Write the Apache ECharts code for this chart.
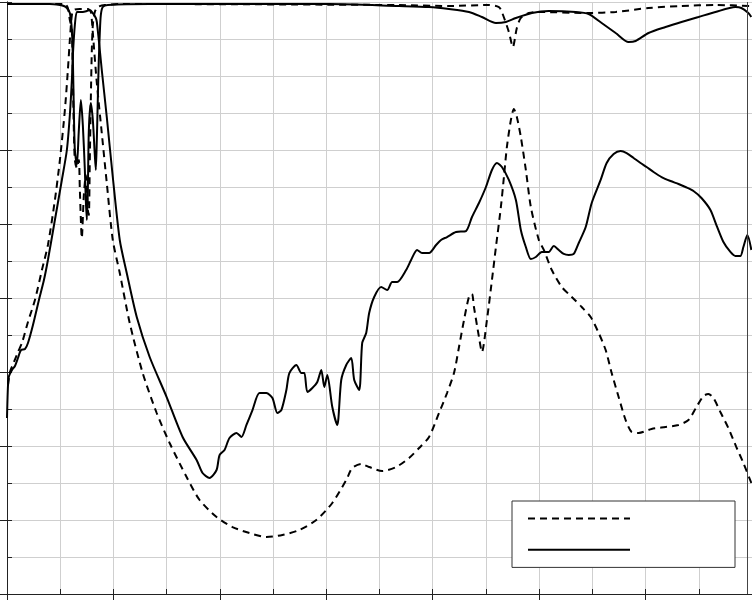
<!DOCTYPE html>
<html>
<head>
<meta charset="utf-8">
<script src="https://cdn.jsdelivr.net/npm/echarts@6.0.0/dist/echarts.min.js"></script>
<style>html,body{margin:0;padding:0;background:#fff;}#c{width:752px;height:604px;}</style>
</head>
<body>
<div id="c"></div>
<script>
// x in arbitrary units (0..140), y in dB (-80..0)
const upperSolid = [[0,-0.27],[8.06,-0.27],[9.94,-0.41],[10.69,-0.54],[11.25,-0.81],[11.81,-1.49],[12.19,-3.78],[12.38,-7.84],[12.56,-14.59],[12.75,-20.0],[13.13,-22.03],[13.5,-17.30],[13.88,-13.24],[14.25,-16.62],[14.63,-22.70],[14.81,-26.76],[15.0,-29.46],[15.19,-25.41],[15.38,-17.30],[15.75,-13.65],[16.13,-15.95],[16.5,-20.68],[16.69,-22.70],[16.88,-18.65],[17.06,-13.24],[17.25,-7.84],[17.44,-4.19],[17.63,-1.76],[18.0,-0.68],[18.94,-0.41],[26.81,-0.27],[60.56,-0.27],[73.69,-0.54],[79.31,-0.68],[83.06,-0.95],[86.81,-1.35],[89.25,-2.03],[91.88,-2.84],[93.75,-2.70],[95.63,-2.16],[98.63,-1.49],[101.81,-1.22],[106.88,-1.35],[109.31,-1.62],[111.75,-2.84],[114.38,-4.19],[116.81,-5.41],[118.13,-5.27],[120.56,-4.19],[123.75,-3.38],[126.75,-2.70],[129.94,-2.03],[133.13,-1.35],[136.88,-0.68],[138.0,-0.81],[139.31,-1.49],[139.88,-2.03]];

const upperDashed = [[0,-0.27],[10.88,-0.27],[11.44,-0.81],[11.81,-2.43],[12.19,-3.78],[12.38,-10.54],[12.56,-17.30],[12.75,-21.35],[13.13,-22.43],[13.5,-21.35],[13.69,-25.41],[14.06,-31.89],[14.44,-26.08],[14.81,-23.38],[15.19,-28.11],[15.38,-28.78],[15.56,-21.35],[15.75,-13.24],[15.94,-6.49],[16.13,-3.11],[16.5,-1.35],[17.06,-0.68],[18.38,-0.41],[21.19,-0.27],[73.69,-0.41],[83.06,-0.54],[90.56,-0.41],[92.44,-0.68],[93.0,-1.35],[94.31,-4.05],[95.06,-6.08],[95.81,-3.51],[96.56,-2.16],[98.06,-1.49],[99.38,-1.35],[109.31,-1.49],[114.38,-1.35],[120.56,-0.81],[126.75,-0.54],[133.13,-0.41],[139.88,-0.54]];

const lowerSolid = [[0,-56.22],[0.19,-51.76],[0.38,-50.54],[0.94,-49.73],[1.5,-49.19],[2.06,-48.11],[2.63,-47.03],[3.38,-46.89],[3.94,-46.08],[4.88,-43.65],[6.0,-40.27],[6.94,-37.57],[7.69,-34.86],[9.0,-29.46],[10.31,-24.05],[11.25,-20.0],[11.81,-15.27],[12.19,-10.54],[12.38,-7.16],[12.75,-3.11],[13.13,-1.35],[13.69,-1.35],[14.25,-1.35],[15.0,-1.22],[15.56,-1.08],[16.13,-1.49],[16.69,-2.16],[16.88,-2.70],[17.44,-6.49],[17.81,-9.19],[18.75,-15.54],[19.88,-23.65],[21.19,-32.16],[22.5,-36.62],[24.38,-42.57],[26.81,-47.97],[30.0,-53.38],[33.0,-58.78],[35.63,-61.89],[36.75,-63.65],[38.06,-64.32],[39.38,-63.24],[39.94,-61.22],[40.88,-60.54],[41.81,-58.92],[43.13,-58.24],[44.06,-58.78],[45.0,-57.16],[46.13,-55.14],[47.44,-52.84],[48.75,-52.84],[49.88,-53.51],[50.81,-55.54],[51.56,-55.14],[52.5,-52.43],[53.06,-50.14],[54.38,-49.05],[55.31,-50.14],[55.88,-50.14],[56.44,-52.70],[57.38,-52.16],[58.31,-51.35],[59.06,-49.73],[59.63,-52.03],[60.19,-50.41],[61.13,-54.73],[62.06,-57.16],[62.81,-51.08],[63.75,-49.05],[64.69,-48.11],[65.25,-51.08],[66.19,-52.43],[66.75,-46.08],[67.5,-44.73],[68.06,-42.03],[69.0,-39.86],[70.31,-38.51],[71.44,-38.92],[72.38,-37.84],[73.31,-37.84],[75.0,-36.22],[75.94,-34.86],[77.06,-33.51],[78.0,-33.92],[79.31,-33.92],[80.63,-32.84],[81.56,-32.16],[82.69,-31.76],[84.38,-31.08],[86.25,-30.95],[87.38,-29.05],[88.69,-27.16],[90.0,-25.0],[91.13,-22.70],[92.06,-21.76],[93.0,-22.30],[94.31,-24.05],[95.63,-26.76],[96.56,-30.81],[97.5,-33.11],[98.44,-34.73],[99.38,-34.46],[100.5,-33.78],[101.81,-33.78],[102.75,-32.97],[103.69,-33.51],[104.63,-34.05],[105.56,-34.19],[106.5,-34.05],[107.44,-32.57],[108.75,-30.41],[109.88,-27.16],[111.56,-24.05],[112.69,-21.76],[114.0,-20.54],[115.31,-20.14],[116.44,-20.41],[117.75,-21.08],[119.06,-21.76],[120.19,-22.30],[121.5,-22.97],[123.0,-23.65],[124.69,-24.19],[126.19,-24.59],[127.5,-25.0],[129.0,-25.54],[130.5,-26.49],[132.19,-28.11],[133.31,-30.14],[134.63,-32.43],[135.94,-33.78],[136.88,-34.32],[137.81,-34.32],[138.38,-33.11],[139.13,-31.49],[139.88,-33.51]];

const lowerDashed = [[0.19,-51.76],[0.56,-50.0],[1.31,-48.65],[2.06,-47.30],[2.81,-46.08],[3.94,-43.24],[5.25,-40.27],[6.56,-36.22],[7.69,-32.84],[9.0,-26.76],[9.94,-21.35],[10.88,-14.59],[11.44,-9.19],[11.81,-5.14],[12.19,-1.76],[12.56,-1.08],[13.69,-0.95],[15.19,-0.95],[15.75,-1.35],[15.94,-2.43],[16.13,-4.19],[16.88,-10.95],[17.81,-17.70],[18.75,-24.46],[19.88,-32.16],[21.19,-36.62],[23.06,-43.38],[25.5,-50.14],[28.13,-55.54],[30.56,-59.59],[33.75,-64.19],[36.19,-67.30],[39.38,-69.59],[42.38,-70.95],[45.56,-71.76],[48.75,-72.30],[51.75,-72.03],[54.94,-71.35],[58.13,-70.0],[61.13,-67.70],[63.75,-64.59],[64.88,-62.97],[66.56,-62.43],[68.06,-62.84],[70.5,-63.38],[73.13,-62.84],[75.56,-61.62],[77.44,-60.27],[79.31,-58.78],[81.19,-55.54],[82.69,-52.84],[84.0,-50.14],[84.94,-46.62],[85.88,-42.97],[86.81,-39.86],[87.38,-39.46],[87.75,-41.22],[88.69,-45.27],[89.25,-47.30],[90.19,-42.97],[91.13,-37.57],[91.88,-33.11],[92.81,-27.70],[93.38,-23.65],[93.94,-19.59],[94.69,-15.95],[95.25,-14.46],[95.81,-15.54],[96.56,-18.24],[97.5,-22.70],[98.44,-27.70],[99.94,-32.16],[100.88,-33.51],[102.38,-36.22],[104.25,-38.51],[106.13,-39.86],[108.0,-41.22],[109.69,-42.57],[111.19,-44.73],[112.5,-47.03],[113.63,-50.14],[114.94,-53.38],[116.25,-56.49],[117.38,-58.11],[118.69,-58.24],[121.13,-57.70],[123.75,-57.43],[126.19,-57.16],[128.06,-56.49],[129.56,-54.73],[130.88,-53.24],[131.81,-52.97],[132.75,-53.51],[134.06,-55.41],[135.56,-57.57],[137.06,-60.14],[138.38,-62.30],[139.88,-65.0]];

const plotEdgeX = [139.03];

const chart = echarts.init(document.getElementById('c'), null, {renderer: 'canvas'});
const dash = [7, 5];
const gridColor = '#cfcfcf';
const axisColor = '#222';
const mkSeries = (name, data, dashed, extra) => Object.assign({
  name: name, type: 'line', data: data, symbol: 'none', smooth: 0.25,
  xAxisIndex: 0, yAxisIndex: 0,
  lineStyle: {color: '#000', width: 2, type: dashed ? dash : 'solid'},
  itemStyle: {color: '#000'}
}, extra || {});

chart.setOption({
  animation: false,
  backgroundColor: '#fff',
  grid: {left: 7, top: 2, width: 747, height: 592, containLabel: false},
  legend: {
    orient: 'vertical', left: 512, top: 501,
    padding: [12, 100, 12, 15],
    itemWidth: 102, itemHeight: 14, itemGap: 20,
    backgroundColor: '#fff', borderColor: '#333', borderWidth: 1,
    formatter: function () { return ''; },
    textStyle: {fontSize: 10, lineHeight: 10},
    itemStyle: {opacity: 0},
    data: [
      {name: 'dashed', itemStyle: {opacity: 0}, lineStyle: {type: dash, width: 2, color: '#000'}},
      {name: 'solid', itemStyle: {opacity: 0}, lineStyle: {type: 'solid', width: 2, color: '#000'}}
    ]
  },
  xAxis: [
    {type: 'value', min: 0, max: 140, interval: 10, position: 'bottom',
     axisLine: {show: true, onZero: false, lineStyle: {color: axisColor, width: 1}},
     axisTick: {show: true, inside: true, length: 5, lineStyle: {color: axisColor}},
     axisLabel: {show: false},
     splitLine: {show: true, lineStyle: {color: gridColor, width: 1}}},
    {type: 'value', min: 0, max: 140, interval: 20, position: 'bottom', offset: 0,
     axisLine: {show: true, onZero: false, lineStyle: {color: axisColor, width: 1}},
     axisTick: {show: true, inside: false, length: 6, lineStyle: {color: axisColor}},
     axisLabel: {show: false}, splitLine: {show: false}}
  ],
  yAxis: [
    {type: 'value', min: -80, max: 0, interval: 5, position: 'left',
     axisLine: {show: true, onZero: false, lineStyle: {color: axisColor, width: 1}},
     axisTick: {show: true, inside: true, length: 5, lineStyle: {color: axisColor}},
     axisLabel: {show: false},
     splitLine: {show: true, lineStyle: {color: gridColor, width: 1}}},
    {type: 'value', min: -80, max: 0, interval: 10, position: 'left', offset: 0,
     axisLine: {show: true, onZero: false, lineStyle: {color: axisColor, width: 1}},
     axisTick: {show: true, inside: false, length: 7, lineStyle: {color: axisColor}},
     axisLabel: {show: false}, splitLine: {show: false}}
  ],
  series: [
    mkSeries('dashed', lowerDashed, true, {
      markLine: {silent: true, symbol: 'none', label: {show: false},
        lineStyle: {color: '#444', width: 1, type: 'solid'},
        data: plotEdgeX.map(v => ({xAxis: v}))}
    }),
    mkSeries('dashed', upperDashed, true),
    mkSeries('solid', lowerSolid, false),
    mkSeries('solid', upperSolid, false)
  ]
});
</script>
</body>
</html>
